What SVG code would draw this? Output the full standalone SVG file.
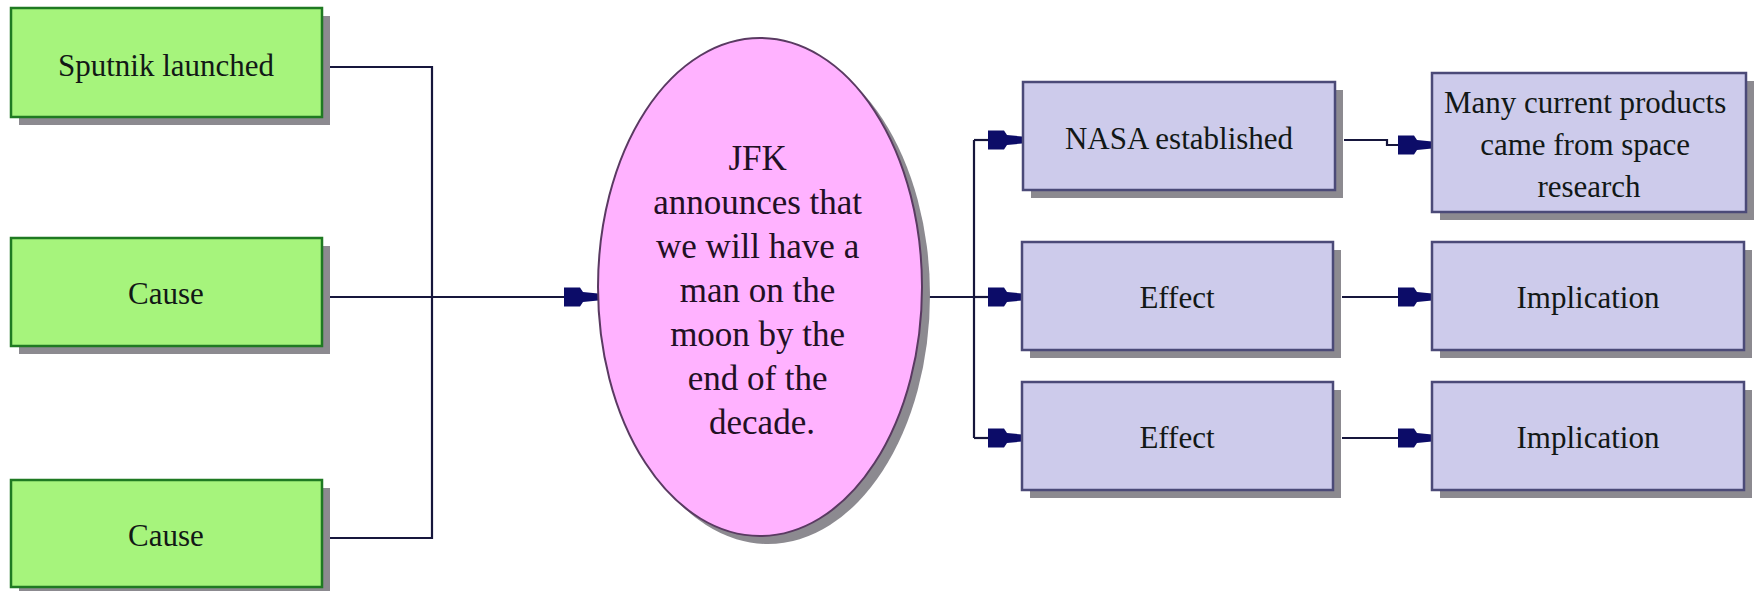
<svg xmlns="http://www.w3.org/2000/svg" width="1758" height="591" viewBox="0 0 1758 591">
  <defs>
    <style>
      .shadow { fill: #8c8a90; }
      .cause { fill: #a6f47c; stroke: #1f7a22; stroke-width: 2.5; }
      .effect { fill: #cdcbeb; stroke: #4b4a78; stroke-width: 2.5; }
      .central { fill: #ffb2ff; stroke: #5a3a62; stroke-width: 2; }
      .label { font-family: "Liberation Serif", "Times New Roman", serif; font-size: 31px; text-anchor: middle; fill: #121816; }
      .big { font-size: 35px; fill: #221024; }
      .wire { fill: none; stroke: #16163c; stroke-width: 2.2; }
      .head { fill: #0c0c68; }
    </style>
    <!-- block-style arrowhead, tip at origin pointing right -->
    <path id="tip" class="head" d="M -34,-9.5 L -18,-9.5 L -15,-5 L 0,-3.5 L 0,3.5 L -15,5 L -18,9.5 L -34,9.5 Z"/>
  </defs>
  <rect width="1758" height="591" fill="#ffffff"/>

  <!-- connectors -->
  <g id="connectors">
    <path class="wire" d="M 330,67 H 432 V 538 H 330"/>
    <path class="wire" d="M 330,297 H 580"/>
    <use href="#tip" x="598" y="297"/>

    <path class="wire" d="M 922,297 H 974"/>
    <path class="wire" d="M 974,140 V 438"/>
    <path class="wire" d="M 974,140 H 1005"/>
    <path class="wire" d="M 974,297 H 1005"/>
    <path class="wire" d="M 974,438 H 1005"/>
    <use href="#tip" x="1022" y="140"/>
    <use href="#tip" x="1022" y="297"/>
    <use href="#tip" x="1022" y="438"/>

    <path class="wire" d="M 1344,140 H 1387 V 145 H 1415"/>
    <use href="#tip" x="1432" y="145"/>
    <path class="wire" d="M 1342,297 H 1415"/>
    <use href="#tip" x="1432" y="297"/>
    <path class="wire" d="M 1342,438 H 1415"/>
    <use href="#tip" x="1432" y="438"/>
  </g>

  <!-- causes -->
  <g id="cause-sputnik">
    <rect class="shadow" x="19" y="16" width="311" height="109"/>
    <rect class="cause" x="11" y="8" width="311" height="109"/>
    <text class="label" x="166" y="76">Sputnik launched</text>
  </g>
  <g id="cause-2">
    <rect class="shadow" x="19" y="246" width="311" height="108"/>
    <rect class="cause" x="11" y="238" width="311" height="108"/>
    <text class="label" x="166" y="304">Cause</text>
  </g>
  <g id="cause-3">
    <rect class="shadow" x="19" y="488" width="311" height="108"/>
    <rect class="cause" x="11" y="480" width="311" height="107"/>
    <text class="label" x="166" y="546">Cause</text>
  </g>

  <!-- central event -->
  <g id="event-jfk">
    <ellipse class="shadow" cx="768" cy="295" rx="162" ry="249"/>
    <ellipse class="central" cx="760" cy="287" rx="162" ry="249"/>
    <text class="label big" x="762">
      <tspan x="762" y="170">JFK</tspan>
      <tspan x="762" y="214">announces that</tspan>
      <tspan x="762" y="258">we will have a</tspan>
      <tspan x="762" y="302">man on the</tspan>
      <tspan x="762" y="346">moon by the</tspan>
      <tspan x="762" y="390">end of the</tspan>
      <tspan x="762" y="434">decade.</tspan>
    </text>
  </g>

  <!-- effects -->
  <g id="effect-nasa">
    <rect class="shadow" x="1031" y="90" width="312" height="108"/>
    <rect class="effect" x="1023" y="82" width="312" height="108"/>
    <text class="label" x="1179" y="149">NASA established</text>
  </g>
  <g id="effect-2">
    <rect class="shadow" x="1030" y="250" width="311" height="108"/>
    <rect class="effect" x="1022" y="242" width="311" height="108"/>
    <text class="label" x="1177" y="308">Effect</text>
  </g>
  <g id="effect-3">
    <rect class="shadow" x="1030" y="390" width="311" height="108"/>
    <rect class="effect" x="1022" y="382" width="311" height="108"/>
    <text class="label" x="1177" y="448">Effect</text>
  </g>

  <!-- implications -->
  <g id="implication-products">
    <rect class="shadow" x="1440" y="81" width="314" height="139"/>
    <rect class="effect" x="1432" y="73" width="314" height="139"/>
    <text class="label">
      <tspan x="1589" y="113">Many current products</tspan>
      <tspan x="1589" y="155">came from space</tspan>
      <tspan x="1589" y="197">research</tspan>
    </text>
  </g>
  <g id="implication-2">
    <rect class="shadow" x="1440" y="250" width="312" height="108"/>
    <rect class="effect" x="1432" y="242" width="312" height="108"/>
    <text class="label" x="1588" y="308">Implication</text>
  </g>
  <g id="implication-3">
    <rect class="shadow" x="1440" y="390" width="312" height="108"/>
    <rect class="effect" x="1432" y="382" width="312" height="108"/>
    <text class="label" x="1588" y="448">Implication</text>
  </g>
</svg>
